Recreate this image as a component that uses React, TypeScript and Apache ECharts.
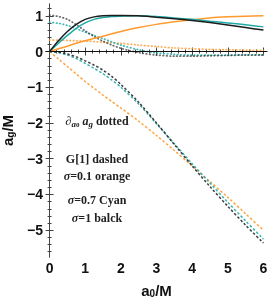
import React, { useEffect, useRef } from "react";
import * as echarts from "echarts";

// x grid shared by all curves
const X = [0, 0.25, 0.5, 0.75, 1, 1.25, 1.5, 1.75, 2, 2.5, 3, 3.5, 4, 4.5, 5, 5.5, 6];

// a_g (solid)
const AG_S01 = [0, 0.08, 0.15, 0.23, 0.3, 0.37, 0.43, 0.5, 0.56, 0.67, 0.76, 0.83, 0.89, 0.94, 0.97, 0.99, 1.0];
const AG_S07 = [0, 0.23, 0.45, 0.65, 0.8, 0.9, 0.95, 0.98, 0.99, 1.0, 0.98, 0.94, 0.9, 0.85, 0.8, 0.75, 0.69];
const AG_S1 = [0, 0.3, 0.56, 0.76, 0.9, 0.97, 1.0, 1.01, 1.01, 1.0, 0.96, 0.92, 0.87, 0.81, 0.74, 0.67, 0.6];

// derivative (dotted)
const D_S01 = [0.32, 0.32, 0.31, 0.3, 0.29, 0.28, 0.26, 0.25, 0.23, 0.18, 0.14, 0.1, 0.08, 0.06, 0.05, 0.04, 0.03];
const D_S07 = [0.82, 0.79, 0.73, 0.64, 0.54, 0.45, 0.36, 0.27, 0.18, 0.05, -0.04, -0.08, -0.1, -0.1, -0.1, -0.09, -0.09];
const D_S1 = [1.02, 0.98, 0.9, 0.75, 0.58, 0.42, 0.29, 0.18, 0.09, -0.03, -0.1, -0.13, -0.13, -0.12, -0.11, -0.1, -0.1];

// G[1] (dashed)
const G_S01 = [0, -0.21, -0.42, -0.63, -0.84, -1.03, -1.22, -1.4, -1.58, -1.95, -2.35, -2.77, -3.2, -3.64, -4.08, -4.54, -5.0];
const G_S07 = [0, -0.03, -0.1, -0.2, -0.33, -0.47, -0.62, -0.8, -1.0, -1.47, -2.02, -2.58, -3.14, -3.68, -4.22, -4.74, -5.25];
const G_S1 = [0, -0.02, -0.07, -0.15, -0.26, -0.38, -0.52, -0.7, -0.92, -1.42, -2.0, -2.6, -3.2, -3.78, -4.33, -4.86, -5.36];

const X_TICKS = [0, 1, 2, 3, 4, 5, 6];
const Y_TICKS = [-5, -4, -3, -2, -1, 0, 1];

const ORANGE = "#FF9A2E";
const CYAN = "#20ABA6";
const BLACK = "#1c1c1c";

function minorTicks(majors: number[], lo: number, hi: number, step: number) {
  const out: number[] = [];
  for (let v = lo; v <= hi + 1e-9; v += step) {
    const r = Math.round(v * 10) / 10;
    if (!majors.includes(r)) out.push(r);
  }
  return out;
}

const pairs = (ys: number[]) => X.map((x, i) => [x, ys[i]]);

export default function App() {
  const ref = useRef<HTMLDivElement>(null);
  useEffect(() => {
    const chart = echarts.init(ref.current!, null, { renderer: "svg" });
    const xMin = -0.1, xMax = 6.1, yMin = -5.75, yMax = 1.33;
    const xMinor = minorTicks(X_TICKS, 0, 6, 0.2);
    const yMinor = minorTicks(Y_TICKS, -5.6, 1.2, 0.2);
    const labelFont = { fontFamily: "Liberation Sans", fontWeight: "bold" as const, fontSize: 14, color: "#111" };
    const frame = { show: true, lineStyle: { color: "#444", width: 1 } };
    const fmt = (v: number) => (v < 0 ? "\u2212" + Math.abs(v) : String(v));
    const nameRich = {
      a: { fontFamily: "Liberation Sans", fontWeight: "bold", fontSize: 15, color: "#111", lineHeight: 16, verticalAlign: "middle" },
      s: { fontFamily: "Liberation Sans", fontWeight: "bold", fontSize: 10, color: "#111", lineHeight: 9, verticalAlign: "bottom" },
    };
    const xAxisBase = { type: "value", min: xMin, max: xMax, splitLine: { show: false } };
    const yAxisBase = { type: "value", min: yMin, max: yMax, splitLine: { show: false } };
    const line = (name: string, ys: number[], color: string, type: any, width: number, opacity = 1, cap = "butt") => ({
      name,
      type: "line",
      data: pairs(ys),
      showSymbol: false,
      smooth: 0.3,
      lineStyle: { color, type, width, opacity, cap },
      z: 3,
    });
    const tc = "#222";
    const annot = (text: string, y: number) => ({
      type: "text",
      x: 97,
      y,
      style: {
        text,
        textAlign: "center",
        textVerticalAlign: "middle",
        fill: tc,
        rich: {
          b: { fontFamily: "Liberation Serif", fontWeight: "bold", fontSize: 12, color: tc, lineHeight: 15, verticalAlign: "middle" },
          i: { fontFamily: "Liberation Serif", fontWeight: "bold", fontStyle: "italic", fontSize: 12, color: tc, lineHeight: 15, verticalAlign: "middle" },
          si: { fontFamily: "Liberation Serif", fontWeight: "bold", fontStyle: "italic", fontSize: 9, color: tc, lineHeight: 10, verticalAlign: "bottom" },
          ss: { fontFamily: "Liberation Serif", fontWeight: "bold", fontSize: 7, color: tc, lineHeight: 6, verticalAlign: "bottom" },
        },
      },
    });
    chart.setOption({
      animation: false,
      grid: { left: 46, right: 6, top: 4, bottom: 44, containLabel: false, outerBoundsMode: "none" },
      xAxis: [
        {
          ...xAxisBase,
          position: "bottom",
          axisLine: frame,
          axisTick: { show: true, inside: true, length: 4, customValues: X_TICKS, lineStyle: { color: "#444" } },
          axisLabel: { ...labelFont, margin: 4, customValues: X_TICKS, formatter: fmt },
          name: "{a|a}{s|0}{a|/M}",
          nameLocation: "middle",
          nameGap: 25,
          nameTextStyle: { rich: nameRich },
        },
        {
          ...xAxisBase,
          position: "bottom",
          axisLine: { show: false },
          axisTick: { show: true, inside: true, length: 2, customValues: xMinor, lineStyle: { color: "#444" } },
          axisLabel: { show: false },
        },
        {
          ...xAxisBase,
          position: "top",
          axisLine: frame,
          axisTick: { show: true, inside: true, length: 4, customValues: X_TICKS, lineStyle: { color: "#444" } },
          axisLabel: { show: false },
        },
        {
          ...xAxisBase,
          position: "top",
          axisLine: { show: false },
          axisTick: { show: true, inside: true, length: 2, customValues: xMinor, lineStyle: { color: "#444" } },
          axisLabel: { show: false },
        },
      ],
      yAxis: [
        {
          ...yAxisBase,
          position: "left",
          axisLine: frame,
          axisTick: { show: true, inside: true, length: 4, customValues: Y_TICKS, lineStyle: { color: "#444" } },
          axisLabel: { ...labelFont, margin: 3, customValues: Y_TICKS, formatter: fmt },
          name: "{a|a}{s|g}{a|/M}",
          nameLocation: "middle",
          nameGap: 31,
          nameRotate: 90,
          nameTextStyle: { rich: nameRich },
        },
        {
          ...yAxisBase,
          position: "left",
          axisLine: { show: false },
          axisTick: { show: true, inside: true, length: 2, customValues: yMinor, lineStyle: { color: "#444" } },
          axisLabel: { show: false },
        },
        {
          ...yAxisBase,
          position: "right",
          axisLine: frame,
          axisTick: { show: true, inside: true, length: 4, customValues: Y_TICKS, lineStyle: { color: "#444" } },
          axisLabel: { show: false },
        },
        {
          ...yAxisBase,
          position: "right",
          axisLine: { show: false },
          axisTick: { show: true, inside: true, length: 2, customValues: yMinor, lineStyle: { color: "#444" } },
          axisLabel: { show: false },
        },
      ],
      series: [
        {
          ...line("G σ=0.1", G_S01, ORANGE, [2.5, 2], 1.5, 0.9),
          markLine: {
            silent: true,
            symbol: "none",
            label: { show: false },
            lineStyle: { color: "#111", width: 1, type: "solid" },
            data: [{ yAxis: 0 }],
          },
        },
        line("G σ=0.7", G_S07, CYAN, [2.5, 2], 1.5, 0.9),
        line("G σ=1", G_S1, BLACK, [2.5, 2], 1.5, 0.85),
        line("D σ=0.1", D_S01, ORANGE, [0.6, 2.8], 1.7, 0.8, "round"),
        line("D σ=0.7", D_S07, CYAN, [0.6, 2.8], 1.7, 0.85, "round"),
        line("D σ=1", D_S1, BLACK, [0.6, 2.8], 1.7, 0.65, "round"),
        line("a σ=0.1", AG_S01, ORANGE, "solid", 1.5),
        line("a σ=0.7", AG_S07, CYAN, "solid", 1.5),
        line("a σ=1", AG_S1, BLACK, "solid", 1.5),
      ],
      graphic: [
        annot("{i|∂}{si|a}{ss|0}{i| a}{si|g}{b| dotted}", 121),
        annot("{b|G[1] dashed}", 159),
        annot("{i|σ}{b|=0.1 orange}", 176),
        annot("{i|σ}{b|=0.7 Cyan}", 200),
        annot("{i|σ}{b|=1 balck}", 218),
      ],
    });
    return () => chart.dispose();
  }, []);
  return <div ref={ref} style={{ position: "fixed", left: 0, top: 0, width: 273, height: 301 }} />;
}
